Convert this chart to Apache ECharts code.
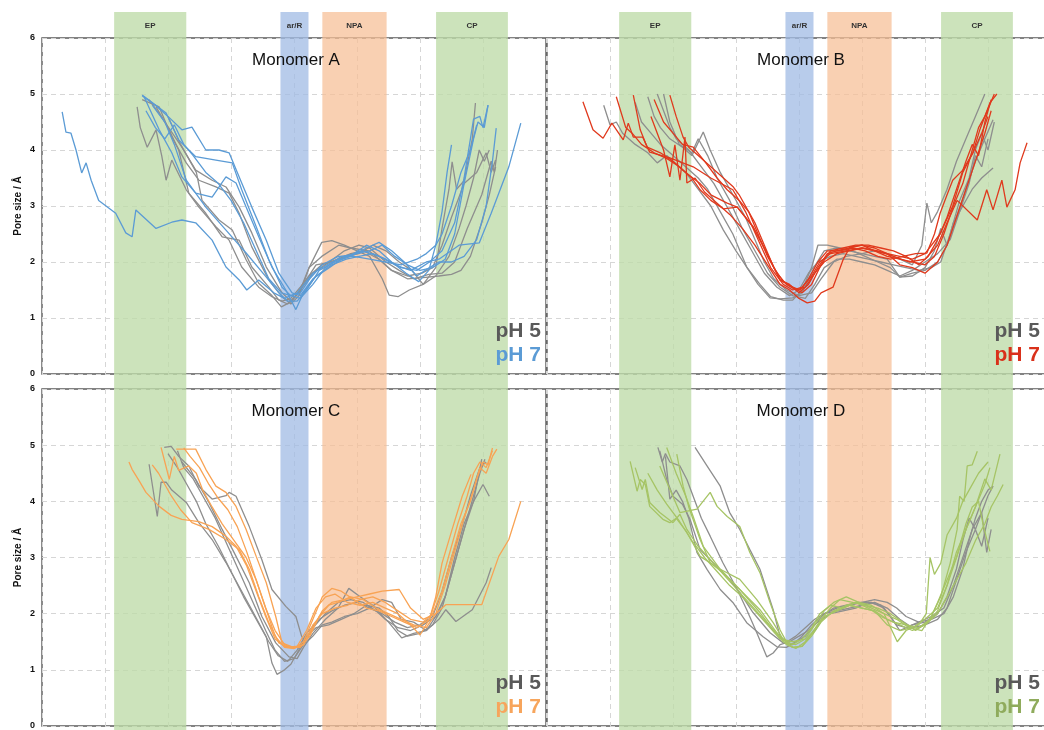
<!DOCTYPE html>
<html><head><meta charset="utf-8">
<script src="https://cdn.jsdelivr.net/npm/echarts@6/dist/echarts.min.js"></script>
<style>html,body{margin:0;padding:0;background:#fff}#c{width:1044px;height:730px}</style>
</head><body><div id="c"></div><script>
// Regions along the channel (x in arbitrary position units 0..80)
const bandNames = ['EP', 'ar/R', 'NPA', 'CP'];
const bandStart = [11.45, 37.85, 44.5, 62.55];
const bandEnd = [22.9, 42.3, 54.7, 73.95];
const yTicks = [0, 1, 2, 3, 4, 5, 6];
const titles = ['Monomer A', 'Monomer B', 'Monomer C', 'Monomer D'];
const legend5 = 'pH 5';
const legend7 = 'pH 7';

// ---------- Monomer A ----------
const A_ph5 = [
 [[15.1,4.77],[15.6,4.4],[16.7,4.05],[18.1,4.36],[19.0,3.9],[19.7,3.46],[20.6,3.82],[22.9,3.29],[24.9,2.98],[27.6,2.63],[29.7,2.39],[31.7,1.91],[34.4,1.55],[36.5,1.38],[38.1,1.3],[39.5,1.35],[41,1.55],[42.4,1.75],[44.4,1.95],[47,2.05],[49,2.15],[51,2.2],[53.5,2.05],[55.5,1.85],[58,1.75],[60.3,1.8],[62,1.9],[63.5,2.3],[65,2.8],[67,3.4],[69,3.6],[70.5,3.95],[71.3,3.6],[72,3.82]],
 [[15.9,4.9],[18.6,4.77],[20.6,4.23],[22.9,3.77],[24.9,3.46],[27.6,3.34],[29.7,3.23],[31.3,2.87],[33.3,2.27],[36,1.68],[38.1,1.38],[39.5,1.25],[40.8,1.4],[42.4,1.9],[44.4,2.35],[46,2.38],[48,2.3],[50,2.2],[52,2.1],[54,1.7],[55.1,1.41],[56.5,1.38],[58.3,1.5],[60.5,1.6],[62.5,1.9],[63.5,2.6],[64.6,3.3],[65.1,3.79],[65.8,3.3],[67,3.45],[68.3,4.2],[68.8,4.84]],
 [[17.0,4.9],[19.5,4.5],[22.2,4.05],[24.4,3.64],[27.0,3.46],[29.2,3.34],[31.3,2.98],[33.3,2.52],[35.6,1.91],[38.1,1.45],[39.5,1.3],[41,1.5],[43,1.8],[45.6,2.0],[48,2.2],[50.3,2.3],[52,2.25],[54.6,2.0],[56.7,1.85],[59,1.7],[61.4,1.78],[63.5,1.8],[65.5,2.0],[67.5,2.6],[69.8,3.2],[71.3,3.8],[71.8,3.6],[72.3,4.0]],
 [[18.1,4.77],[20,4.4],[21.7,4.0],[23.3,3.23],[26.0,2.87],[28.6,2.45],[31.3,2.39],[33.3,1.91],[36,1.55],[37.6,1.32],[39,1.25],[40.8,1.45],[42.4,1.9],[44.4,2.1],[47.1,2.3],[49,2.25],[51.9,2.2],[53.5,2.05],[55.5,1.85],[58,1.7],[60.5,1.72],[63,1.75],[65,1.78],[66.5,1.85],[68,2.1],[69.8,2.7],[71,3.2],[72,3.7]],
 [[20.0,4.6],[22,4.1],[24.5,3.6],[25.4,3.1],[28.1,2.75],[30.2,2.57],[32.4,2.04],[34.4,1.62],[36.5,1.4],[38,1.2],[39.7,1.3],[41.5,1.6],[43.5,1.95],[46,2.0],[48.3,2.1],[50.3,2.15],[52.5,2.3],[54.6,2.2],[56.7,2.0],[58.7,1.85],[60.5,1.6],[62.5,1.75],[64.6,2.1],[66.2,2.6],[67.3,3.0],[68.5,3.5],[69.4,4.0],[70.2,3.8],[71,4.0]]
];
const A_ph7 = [
 [[3.2,4.68],[3.8,4.32],[4.6,4.3],[5.4,4.0],[6.3,3.59],[7.0,3.77],[7.8,3.46],[9.0,3.1],[11.7,2.87],[13.3,2.52],[14.3,2.45],[14.9,2.93],[18.1,2.6],[20.6,2.71],[22.2,2.75],[24.4,2.7],[27.0,2.39],[29.2,1.91],[31.3,1.68],[32.5,1.5],[34.4,1.68],[36.8,1.45],[38.5,1.35],[40.5,1.45],[43,1.8],[46,2.0],[48.5,2.1],[51,2.2],[53.5,2.1],[56,1.95],[58.5,1.85],[61,2.0],[63,2.05],[66.2,2.3],[69.4,2.34],[71.3,2.87],[74.1,3.7],[76.0,4.48]],
 [[15.9,4.97],[18,4.8],[20,4.6],[22.2,4.36],[23.8,4.41],[26.0,4.0],[28.1,4.0],[29.7,3.95],[31.3,3.52],[33.3,2.98],[35.6,2.39],[37.6,1.8],[39.7,1.45],[41,1.4],[43,1.7],[45.6,1.9],[47.5,2.05],[49.5,2.15],[51.5,2.3],[53.5,2.2],[55.5,2.0],[57.8,1.8],[59.8,1.65],[61.4,1.85],[62.5,2.3],[63.5,2.9],[64.3,3.6],[65,4.09]],
 [[16.2,4.95],[18.6,4.36],[20.6,3.95],[22.2,3.52],[24.4,3.23],[27.0,3.16],[29.2,3.52],[30.8,3.41],[32.4,2.98],[34.4,2.45],[36.5,1.91],[38.7,1.5],[40.3,1.15],[41.5,1.45],[43.5,1.75],[46,1.95],[48.3,2.05],[50.3,2.1],[52.5,2.15],[54.6,2.05],[57,1.9],[59.5,1.85],[61.5,2.0],[63.5,2.2],[65.5,2.7],[67,3.5],[68,4.2],[68.5,4.55],[69.5,4.6],[70,4.4],[70.8,4.8]],
 [[15.9,4.98],[19.7,4.66],[21.7,4.18],[24.4,3.88],[27.6,3.82],[30.2,3.77],[31.7,3.29],[34.0,2.63],[36.0,2.04],[38.1,1.55],[39.5,1.4],[41,1.35],[43,1.6],[45,1.9],[47.5,2.1],[50,2.15],[52,2.2],[54,2.3],[56,2.1],[58,1.95],[60,1.85],[62,1.9],[64,2.05],[65.5,2.5],[67,3.4],[68.5,4.2],[69.2,4.5],[70.2,4.4],[70.8,4.8]],
 [[17.5,4.8],[19.5,4.5],[21,4.1],[22.9,3.46],[26.0,2.98],[29.2,2.57],[32.4,2.16],[35.6,1.73],[37.6,1.45],[39,1.3],[40.5,1.3],[42,1.5],[44,1.85],[46.5,2.0],[49,2.1],[51.5,2.25],[53.5,2.35],[55.5,2.2],[57.5,2.0],[59.5,1.75],[61.5,1.9],[63,2.0],[65,2.0],[67,2.1],[69,2.4],[70.5,3.0],[71.5,3.8],[72.1,4.39]],
 [[16.5,4.7],[18,4.4],[19.5,4.2],[21,4.45],[22.5,4.1],[24,3.9],[26,3.6],[28,3.4],[30,3.1],[32,2.7],[34,2.2],[36,1.7],[38,1.45],[39.5,1.4],[41,1.45],[42.5,1.7],[44.5,1.95],[47,2.1],[49.5,2.1],[52,2.05],[54.5,2.0],[57,1.95],[59.5,2.05],[61,2.15],[62.5,2.3],[63.5,2.5],[65,3.0],[66.5,3.6],[68,4.0],[69,4.45]]
];

// ---------- Monomer B ----------
const B_ph5 = [
 [[9,4.8],[10,4.45],[11,4.5],[12,4.3],[14,4.1],[16,3.95],[17.5,3.77],[19,3.9],[20.5,3.75],[22,3.6],[24,3.3],[26,3.0],[28,2.57],[30,2.2],[31.7,1.91],[33.5,1.6],[35.4,1.36],[37,1.34],[39,1.36],[40.5,1.45],[42,1.8],[42.9,2.0],[44,2.2],[46,2.25],[48,2.2],[50,2.15],[52,2.1],[54,2.05],[56,1.73],[58,1.75],[60,1.9],[61.5,2.2],[62.5,2.6],[63.5,2.3],[64.5,2.7],[66,3.0],[67.5,3.3],[69,3.5],[70.8,3.68]],
 [[16,4.95],[17,4.6],[18,4.4],[19.5,4.2],[21.5,4.05],[23,3.9],[24.8,4.32],[25.9,4.0],[27.5,3.6],[29.5,3.2],[31.5,2.8],[33,2.4],[34.5,2.0],[36,1.7],[38,1.5],[40,1.4],[42,1.45],[43.5,1.7],[45.5,2.0],[47.5,2.1],[50,2.15],[52,2.2],[54,2.15],[56,2.05],[58,1.95],[59.5,2.3],[60.3,3.05],[61,2.7],[62,2.9],[63.5,3.3],[65,3.8],[66.5,4.2],[68,4.6],[69.5,5.0]],
 [[14,4.85],[15,4.5],[16.5,4.3],[18,4.1],[20,3.9],[22,3.7],[24,3.5],[25.5,3.3],[27.5,2.9],[29.5,2.5],[31.7,1.91],[33.8,1.6],[35.5,1.38],[37.5,1.32],[39,1.32],[40.5,1.5],[42,1.9],[43,2.3],[44.5,2.3],[46.5,2.25],[48.5,2.2],[50.5,2.1],[52.5,2.0],[54.5,1.9],[56,1.73],[58,1.8],[60,1.85],[62,2.0],[63.5,2.3],[65,2.8],[66.5,3.3],[68,3.8],[69.5,4.2],[70.8,4.54]],
 [[17.5,5.0],[18.5,4.7],[19.5,4.4],[20.5,4.2],[22.5,4.0],[24.5,3.7],[26.5,3.4],[28.5,3.0],[30.5,2.6],[32.5,2.2],[34.5,1.8],[36.5,1.55],[38.5,1.4],[40,1.5],[41.5,1.8],[43,2.0],[45,2.1],[47,2.15],[49,2.1],[51,2.05],[53,2.0],[55,1.95],[57,1.9],[59,1.85],[61,1.9],[62.5,2.0],[64,2.5],[65.5,3.1],[67,3.5],[68,4.0],[69,4.3],[70,4.0],[71,4.5]],
 [[18.5,5.0],[19.5,4.5],[21,4.1],[23,3.95],[24,4.2],[25.5,3.9],[27,3.5],[29,3.1],[31,2.6],[33,2.2],[35,1.8],[37,1.55],[39,1.4],[41,1.35],[42.5,1.6],[44,1.9],[46,2.05],[48,2.05],[50,2.0],[52,1.95],[54,1.85],[56,1.75],[58,1.85],[60,2.0],[62,2.15],[64,2.4],[65.5,2.9],[67,3.4],[68,3.9],[69,3.7],[70,4.2]]
];
const B_ph7 = [
 [[5.7,4.86],[7.3,4.36],[8.9,4.21],[10.3,4.48],[12.1,4.18],[12.9,4.48],[13.7,4.23],[15.2,4.23],[16.3,3.96],[19.5,3.86],[23.2,3.7],[26,3.5],[29.5,3.29],[31.5,2.9],[33.5,2.4],[35.5,1.9],[37.5,1.6],[39,1.5],[40.5,1.55],[42,1.75],[43.3,2.0],[45,2.15],[47.5,2.2],[50,2.25],[52.5,2.2],[55,2.1],[57.5,2.0],[60,2.05],[62,2.3],[63.5,2.7],[65.1,3.1],[68.3,2.75],[69.8,3.29],[70.8,2.93],[72.2,3.46],[73.0,2.98],[74.3,3.29],[75.1,3.77],[76.2,4.13]],
 [[13.7,4.98],[14.8,4.36],[15.9,4.05],[18,3.95],[20,3.8],[22,3.6],[24.3,3.4],[26,3.2],[28.6,3.05],[30.2,2.98],[32.7,2.63],[34.9,2.16],[37.0,1.68],[38.5,1.6],[40,1.45],[41.5,1.6],[43,1.9],[44.5,2.15],[46,2.2],[48,2.25],[50,2.3],[52,2.2],[54,2.15],[56,2.1],[58,2.05],[60,2.15],[62.4,2.5],[64.4,3.0],[66,3.6],[67.6,3.95],[68.7,4.36],[70.3,4.84],[71.4,5.0]],
 [[16.5,4.6],[17.5,4.3],[18.5,4.0],[19.5,3.52],[20.3,4.09],[21.1,3.46],[21.9,4.23],[22.2,3.41],[23.5,3.5],[25,3.25],[27,3.05],[29,2.85],[31,2.6],[33,2.3],[35,1.95],[37,1.6],[38.5,1.5],[40,1.35],[41.3,1.27],[42.5,1.3],[43.5,1.45],[45.4,1.55],[47,2.04],[48.1,2.27],[50,2.3],[52,2.25],[54,2.15],[56,1.95],[58,1.9],[60,1.8],[62,2.0],[63.5,2.3],[65,2.8],[66.5,3.3],[68,3.8],[69.5,4.3],[70.5,4.7]],
 [[19.5,4.98],[20.5,4.6],[21.6,4.23],[22.5,4.05],[24,3.9],[26,3.7],[28,3.5],[29.5,3.35],[30.5,3.2],[32,2.9],[33.5,2.5],[35,2.1],[36.5,1.8],[38,1.6],[39.5,1.5],[41,1.55],[42.5,1.8],[44,2.0],[46,2.15],[48,2.2],[50,2.25],[52,2.2],[54,2.1],[56,2.05],[58,2.0],[60,1.95],[61.5,2.1],[63,2.5],[64.5,3.0],[66,3.4],[67,3.8],[68.5,4.4],[69.5,4.6],[71,5.0]],
 [[17,4.9],[18.5,4.5],[20,4.3],[21.5,4.1],[23.2,4.05],[25,3.8],[27,3.5],[28.6,3.29],[30.5,3.1],[32,2.9],[33,2.7],[34.5,2.3],[36,1.9],[37.5,1.65],[39,1.55],[40.5,1.45],[42,1.6],[43.5,1.95],[45,2.2],[47,2.25],[49,2.3],[51,2.3],[53,2.25],[55,2.2],[57,2.1],[59,1.95],[60.5,2.1],[62,2.4],[63.5,2.8],[65,3.3],[66.5,3.8],[67.5,4.1],[68.5,3.9],[69.5,4.5],[70.5,4.9]],
 [[11,4.95],[12.5,4.4],[13.5,4.3],[15,4.1],[17,3.95],[19,3.85],[21,3.7],[23,3.5],[24.3,3.29],[26,3.1],[28,2.95],[30.2,2.98],[32.7,2.63],[34.9,2.16],[37.0,1.68],[39.0,1.55],[40.2,1.5],[41.5,1.7],[43,2.0],[44.5,2.2],[46.5,2.2],[48.5,2.25],[50.5,2.2],[52.5,2.1],[54.5,2.05],[56.5,2.1],[58.5,2.15],[60.3,2.16],[61.5,2.5],[62.4,2.87],[63.5,3.2],[64.4,3.46],[66,3.64],[67.6,3.95],[69,4.3],[70,4.6]]
];

// ---------- Monomer C ----------
const C_ph5 = [
 [[17.0,4.66],[18.3,3.73],[18.9,4.34],[19.7,4.34],[20.6,4.2],[22.9,3.98],[24.9,3.62],[27.0,3.32],[29.2,2.91],[31.3,2.48],[33.3,2.07],[35.6,1.59],[36.5,1.12],[37.3,0.92],[38.5,1.0],[39.5,1.1],[40.5,1.3],[42,1.6],[43.5,1.75],[45.5,1.8],[47.5,1.9],[49.5,2.0],[51.5,2.15],[53.5,2.1],[55,1.95],[56.5,1.7],[58,1.6],[60,1.65],[62,1.8],[63.5,2.1],[65,2.7],[66.5,3.3],[68,3.9],[69.5,4.5],[70.3,4.75]],
 [[19.4,4.96],[20.5,4.98],[21.7,4.8],[23.3,4.63],[24.9,4.27],[27.0,4.04],[29.2,4.1],[29.7,4.16],[30.8,4.09],[32.9,3.55],[34.9,2.96],[36.5,2.43],[38.7,2.13],[40.3,1.95],[41.2,1.6],[41.9,1.48],[43,1.6],[44.5,1.8],[46,1.85],[48,1.95],[50,2.0],[52,2.1],[54,2.25],[55.5,2.2],[57,1.9],[59,1.85],[61,1.7],[62.5,1.95],[64,2.3],[65.5,3.0],[67,3.6],[68.5,4.0],[70,4.3],[71,4.09]],
 [[22.2,4.7],[24.4,4.39],[26.5,3.98],[28.6,3.5],[30.8,3.02],[32.9,2.55],[34.9,1.95],[37.1,1.48],[39.2,1.23],[40.5,1.2],[41.5,1.4],[43,1.65],[45,1.9],[47,2.1],[48.7,2.45],[50.5,2.3],[52.5,2.15],[54.5,1.9],[56.5,1.75],[58.5,1.7],[60.5,1.8],[62.5,1.95],[64,2.3],[65.5,2.9],[67,3.5],[68.5,4.0],[69.8,4.75]],
 [[21.5,4.9],[22.5,4.6],[24,4.4],[25.5,4.1],[27.5,3.7],[29.5,3.2],[31.5,2.7],[33.5,2.2],[35.5,1.7],[37,1.35],[38.5,1.15],[40,1.2],[41.5,1.45],[43,1.75],[45,2.0],[47,2.2],[49,2.25],[51,2.2],[53,2.05],[55,1.85],[57.1,1.57],[59,1.65],[61,1.7],[63,1.9],[64.1,2.07],[65.7,1.86],[68.3,2.07],[70.5,2.55],[71.3,2.82]],
 [[20,4.85],[21.5,4.6],[23,4.3],[24.5,4.0],[26,3.6],[28,3.2],[30,2.75],[32,2.3],[34,1.9],[36,1.5],[37.5,1.25],[39,1.15],[40.5,1.35],[42,1.65],[44,1.9],[46,2.05],[48,2.15],[50,2.2],[52,2.1],[54,2.0],[56,1.85],[58,1.75],[60,1.8],[62,1.95],[63.5,2.4],[65,3.0],[66.5,3.5],[68,4.1],[69.5,4.6],[70.5,4.7]]
];
const C_ph7 = [
 [[13.8,4.7],[14.3,4.57],[15.5,4.35],[16.5,4.16],[18.6,3.91],[20.5,3.75],[22.2,3.68],[24.9,3.64],[27.0,3.55],[29.2,3.38],[30.8,3.2],[32.5,2.85],[34,2.4],[35.5,1.95],[37,1.55],[38.5,1.42],[40,1.4],[41.5,1.45],[43,1.75],[44.5,2.05],[46,2.2],[48,2.25],[50,2.3],[52,2.35],[54,2.4],[56.7,2.43],[58.5,2.1],[60.5,1.9],[62.5,2.0],[64.1,2.16],[67,2.16],[69.8,2.16],[72.5,3.02],[74.1,3.32],[76.0,4.0]],
 [[18.9,4.96],[19.5,4.7],[20.2,4.39],[21,4.8],[21.7,4.55],[23.3,4.63],[24.5,4.5],[25.5,4.2],[27,3.9],[28.6,3.6],[30.5,3.3],[32.4,3.0],[34,2.6],[35.5,2.1],[37,1.6],[38.5,1.4],[40,1.38],[41.5,1.5],[43,1.9],[44.5,2.3],[46,2.45],[47.5,2.4],[49.5,2.25],[51.5,2.1],[53.5,2.05],[55.5,1.95],[57.5,1.85],[59.5,1.75],[61.5,1.9],[62.5,2.3],[63.5,2.9],[65.1,3.5],[66.7,4.09],[68.1,4.48]],
 [[21.3,4.93],[24.4,4.93],[26.0,4.57],[27.6,4.27],[29.2,4.16],[30.8,3.91],[32.4,3.5],[34.0,3.02],[35.6,2.55],[37.1,1.95],[38.1,1.48],[39.7,1.41],[41,1.4],[42.5,1.6],[44,1.95],[45.5,2.15],[47,2.2],[49,2.3],[51,2.25],[53,2.1],[55,2.0],[57,1.9],[59,1.8],[61,1.75],[62.5,2.0],[64,2.5],[65.5,3.1],[67,3.7],[68.5,4.2],[69.5,4.6],[70.5,4.5],[71.5,4.8],[72.2,4.93]],
 [[17.5,4.65],[18.5,4.5],[19.5,4.3],[20.5,4.1],[22,3.85],[23.8,3.62],[26.5,3.5],[29.2,3.32],[31.3,3.14],[32.9,2.79],[34.4,2.3],[36.0,1.84],[37.6,1.48],[39,1.4],[40.5,1.42],[42,1.7],[43.5,2.1],[45,2.3],[46.5,2.35],[48.5,2.2],[50.5,2.15],[52.5,2.2],[54.5,2.1],[56.5,2.0],[58.5,1.8],[60,1.62],[61.5,1.9],[63,2.4],[64.5,3.0],[66,3.6],[67.5,4.1],[68.5,4.5],[69.5,4.7],[70.5,4.6],[71.5,4.9]],
 [[22.5,4.95],[23.5,4.8],[25,4.6],[26.5,4.3],[28,4.05],[29.5,3.85],[31,3.55],[32.5,3.1],[34,2.6],[35.5,2.1],[37,1.7],[38.5,1.45],[40,1.38],[41.5,1.45],[43,1.8],[44.5,2.0],[46.5,2.1],[48.5,2.15],[50.5,2.25],[52.5,2.3],[54.5,2.2],[56.5,2.05],[58.5,1.9],[60.5,1.85],[62,2.0],[63.5,2.4],[65,3.0],[66.5,3.6],[68,4.0],[69,4.4],[70,4.7],[70.8,4.65],[71.5,4.95]]
];

// ---------- Monomer D ----------
const D_ph5 = [
 [[23.5,4.96],[25.4,4.63],[27.5,4.27],[29.0,3.8],[30.6,3.5],[32.2,3.14],[33.8,2.79],[35.9,2.07],[37.0,1.59],[38.1,1.5],[39.5,1.6],[41,1.75],[42.5,1.9],[44,2.0],[46,2.1],[48,2.15],[50,2.2],[52,2.25],[54,2.2],[55.5,2.1],[57,1.95],[59,1.85],[61,1.95],[63,2.1],[64.5,2.5],[66,3.0],[67.5,3.5],[69,3.8],[70,4.1],[70.8,4.27]],
 [[17.6,4.96],[18.3,4.7],[18.8,4.85],[19.5,4.7],[21.1,4.63],[22.2,4.39],[23.2,4.09],[24.5,3.7],[25.9,3.38],[27.9,2.91],[30.2,2.43],[31.7,2.07],[33.3,1.66],[34.9,1.23],[35.9,1.3],[37,1.45],[38.5,1.5],[40,1.6],[41.5,1.7],[43,1.85],[45,2.0],[47,2.05],[49,2.1],[51,2.2],[53,2.15],[54.5,1.95],[56,1.7],[58,1.8],[60,1.85],[62,2.0],[63.5,2.3],[65,2.8],[66,3.3],[67,3.7],[68,3.5],[69,3.8],[69.8,3.09],[70.5,3.5]],
 [[17.9,4.9],[19.0,4.39],[20.0,4.09],[21.5,3.95],[22.7,3.68],[24.3,3.14],[25.9,2.96],[28.6,2.66],[30.6,2.38],[32.7,2.02],[35.4,1.66],[37.5,1.48],[39,1.45],[40.5,1.6],[42,1.8],[43.5,1.95],[45.5,2.1],[47.5,2.15],[49.5,2.2],[51.5,2.2],[53.5,2.1],[55.5,1.8],[57,1.75],[59,1.85],[61,1.9],[63,2.0],[64.5,2.3],[66,2.8],[67,3.3],[68,3.7],[69,4.0],[70,4.2],[70.8,4.27]],
 [[18.8,4.8],[19.5,4.04],[20.5,4.2],[21.5,4.0],[22.5,3.7],[23.8,3.09],[25.4,2.79],[27.5,2.43],[29.5,2.2],[31.7,1.84],[34.3,1.59],[36.5,1.41],[38,1.4],[39.5,1.5],[41,1.6],[42.5,1.8],[44,2.0],[46,2.05],[48,2.1],[50,2.15],[52,2.2],[54,2.1],[56,1.9],[58,1.75],[60,1.8],[62,1.9],[63.5,2.1],[65,2.6],[66.5,3.1],[68,3.5],[69,3.2],[70,3.7]]
];
const D_ph7 = [
 [[13.2,4.71],[14.3,4.18],[14.8,4.39],[15.6,4.3],[16.3,3.91],[18.4,3.68],[19.5,3.62],[20.5,3.7],[22.2,3.45],[24.3,3.02],[27.5,2.79],[30.6,2.43],[33.8,2.02],[35.9,1.71],[37.5,1.54],[39,1.45],[40.5,1.55],[42,1.75],[43.3,2.0],[45,2.15],[47,2.1],[49,2.2],[51,2.1],[53,1.95],[55,1.85],[57,1.8],[59,1.75],[60.8,1.9],[62,2.2],[63.5,2.6],[65,3.0],[66.5,3.5],[68,3.9],[69.5,4.3],[70.3,4.6]],
 [[14.0,4.6],[15.1,4.21],[15.6,4.39],[16.3,3.98],[17.9,3.8],[20.0,3.62],[21.1,3.77],[22.2,3.5],[24,3.2],[26,2.95],[28,2.7],[30,2.45],[32,2.2],[34,1.95],[36,1.7],[37.5,1.5],[39,1.4],[40.5,1.42],[42,1.6],[43.5,1.85],[45.5,2.05],[47.5,2.15],[49.5,2.2],[51.5,2.15],[53.5,2.0],[55.6,1.5],[57,1.7],[59,1.8],[60.2,2.0],[60.8,3.0],[61.5,2.7],[62.5,2.9],[63.5,3.4],[65,3.7],[66,4.0],[67,4.2],[68.5,4.5],[70,4.7]],
 [[17.9,4.63],[21.1,3.8],[23.8,3.86],[25.9,4.16],[27.0,3.91],[28.6,3.73],[30.6,3.55],[32.2,3.09],[33.8,2.73],[35.4,2.2],[37.0,1.71],[38.1,1.48],[39.5,1.45],[41,1.55],[42.5,1.8],[44,2.05],[45.5,2.2],[47.5,2.3],[49.5,2.2],[51.5,2.1],[53.5,2.0],[55.5,1.9],[57.5,1.75],[59.5,1.7],[61,1.95],[62.5,2.3],[64,2.9],[65.1,3.5],[65.5,4.09],[66.2,4.0],[66.7,4.63],[67.5,4.65],[68.3,4.89]],
 [[20.6,4.84],[21.6,4.27],[22.5,3.9],[24.3,3.32],[25.9,2.91],[27.9,2.73],[30,2.5],[33.8,2.07],[36.5,1.66],[38,1.45],[39.5,1.38],[41,1.5],[42.5,1.7],[44,1.95],[46,2.05],[48,2.15],[50,2.1],[52,2.05],[54,1.8],[56,1.7],[58,1.75],[60,1.9],[62,2.1],[63.5,2.5],[65,3.1],[66.5,3.5],[68,3.9],[69.5,4.4],[70.5,4.2],[71.9,4.84]],
 [[19.0,4.96],[20.5,4.5],[22,4.1],[23.2,3.73],[24.8,3.2],[27.5,2.79],[30.6,2.61],[33.3,2.25],[35.9,1.84],[37.5,1.54],[39,1.4],[40.5,1.42],[42,1.65],[43.5,1.9],[45,2.1],[46.5,2.25],[48.5,2.2],[50.5,2.15],[52.5,2.1],[54.5,2.0],[56.5,1.85],[58.5,1.7],[60.5,1.85],[62,2.05],[63.5,2.5],[65,3.0],[66.5,3.6],[67.5,3.9],[68.5,4.0],[69.2,3.6],[70.3,3.11]],
 [[16,4.5],[17.5,4.2],[19,3.95],[21,3.65],[23,3.3],[25,3.0],[27,2.75],[29,2.5],[31,2.3],[33,2.05],[35,1.8],[37,1.55],[39,1.5],[41,1.55],[42.5,1.7],[44,1.95],[46,2.05],[48,2.15],[50,2.1],[52,2.05],[54,1.9],[56,1.8],[58,1.7],[60,1.8],[62,2.0],[63.5,2.3],[65,2.6],[66.5,2.9],[68,3.3],[69.5,3.6],[70.5,3.9],[71.5,4.1],[72.4,4.3]]
];

const FONT = '"Liberation Sans", Arial, sans-serif';
const GRAY = '#8e8e8e';
const panels = [
  {ph5: A_ph5, ph7: A_ph7, line: '#5b9bd5', label: '#5b9bd5', left: 42, top: 38, h: 336, yLab: true},
  {ph5: B_ph5, ph7: B_ph7, line: '#e0391d', label: '#d9301a', left: 547, top: 38, h: 336, yLab: false},
  {ph5: C_ph5, ph7: C_ph7, line: '#f8a354', label: '#f7a55c', left: 42, top: 389, h: 337, yLab: true},
  {ph5: D_ph5, ph7: D_ph7, line: '#a6c465', label: '#8fab5c', left: 547, top: 389, h: 337, yLab: false}
];
const bandColors = ['rgba(190,219,168,0.78)', 'rgba(160,187,228,0.75)', 'rgba(246,190,148,0.72)', 'rgba(190,219,168,0.78)'];
const PW = 504;

const grid = [
  {left: 42, top: 12, width: PW, height: 718, show: false, containLabel: false, outerBoundsMode: 'none'},
  {left: 547, top: 12, width: PW, height: 718, show: false, containLabel: false, outerBoundsMode: 'none'}
];
const xAxis = [], yAxis = [], series = [];
for (let i = 0; i < 2; i++) {
  xAxis.push({type: 'value', gridIndex: i, min: 0, max: 80, show: false});
  yAxis.push({type: 'value', gridIndex: i, min: 0, max: 1, show: false});
  series.push({
    type: 'line', xAxisIndex: i, yAxisIndex: i, data: [[0, 0]], symbol: 'none',
    lineStyle: {opacity: 0}, z: -1, silent: true,
    markArea: {
      silent: true,
      data: bandNames.map((n, k) => [
        {name: n, xAxis: bandStart[k], yAxis: 0, itemStyle: {color: bandColors[k]}},
        {xAxis: bandEnd[k], yAxis: 1}
      ]),
      label: {show: true, position: 'insideTop', distance: 10, fontSize: 8, fontWeight: 'bold', color: '#333', fontFamily: FONT}
    }
  });
}
const split = {show: true, lineStyle: {color: '#d6d6d6', type: [5, 4], width: 1}};
const graphic = [];
panels.forEach((p, i) => {
  const gi = i + 2;
  grid.push({left: p.left, top: p.top, width: PW, height: p.h, show: true, borderColor: '#5a5a5a', borderWidth: 1.4,
    backgroundColor: 'transparent', containLabel: false, outerBoundsMode: 'none'});
  xAxis.push({type: 'value', gridIndex: gi, min: 0, max: 80, interval: 10,
    axisLabel: {show: false}, axisTick: {show: false}, axisLine: {show: false}, splitLine: split});
  yAxis.push({type: 'value', gridIndex: gi, min: yTicks[0], max: yTicks[yTicks.length - 1], interval: 1,
    axisTick: {show: false}, axisLine: {show: false}, splitLine: split,
    axisLabel: {show: p.yLab, fontSize: 9, fontWeight: 'bold', color: '#111', margin: 7, fontFamily: FONT},
    name: p.yLab ? 'Pore size / Å' : '', nameLocation: 'middle', nameGap: 19, nameRotate: 90,
    nameTextStyle: {fontSize: 10, fontWeight: 'bold', color: '#111', fontFamily: FONT}});
  p.ph5.forEach(tr => series.push({type: 'line', xAxisIndex: gi, yAxisIndex: gi, data: tr, symbol: 'none', showSymbol: false,
    lineStyle: {color: GRAY, width: 1.3}, z: 3, silent: true}));
  p.ph7.forEach(tr => series.push({type: 'line', xAxisIndex: gi, yAxisIndex: gi, data: tr, symbol: 'none', showSymbol: false,
    lineStyle: {color: p.line, width: 1.3}, z: 4, silent: true}));
  graphic.push({type: 'text', x: p.left + PW / 2 + 2, y: p.top + 22, z: 10,
    style: {text: titles[i], font: '17px ' + FONT, fill: '#111', textAlign: 'center', textVerticalAlign: 'middle'}});
  const rx = (i % 2 === 0) ? 541 : 1040;
  graphic.push({type: 'text', x: rx, y: p.top + p.h - 43, z: 10,
    style: {text: legend5, font: 'bold 21px ' + FONT, fill: '#5a5a5a', textAlign: 'right', textVerticalAlign: 'middle'}});
  graphic.push({type: 'text', x: rx, y: p.top + p.h - 19, z: 10,
    style: {text: legend7, font: 'bold 21px ' + FONT, fill: p.label, textAlign: 'right', textVerticalAlign: 'middle'}});
});

const chart = echarts.init(document.getElementById('c'), null, {renderer: 'canvas'});
chart.setOption({animation: false, backgroundColor: '#fff', grid, xAxis, yAxis, series, graphic});
</script></body></html>
